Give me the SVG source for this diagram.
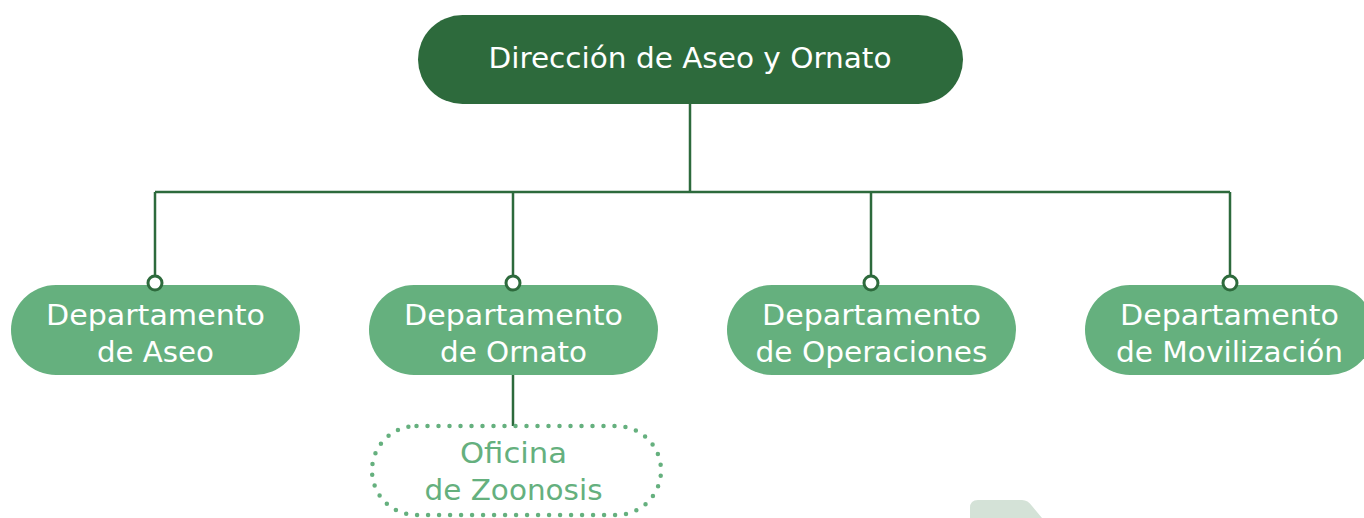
<svg xmlns="http://www.w3.org/2000/svg" width="1364" height="518" viewBox="0 0 1364 518">
<style>
.top{fill:#2d6a3c}
.dept{fill:#65b07e}
.lbl{font-family:"DejaVu Sans","Noto Sans",sans-serif;font-size:28px;fill:#ffffff;text-anchor:middle}
.lblg{font-family:"DejaVu Sans","Noto Sans",sans-serif;font-size:28px;fill:#65b07e;text-anchor:middle}
.conn{stroke:#2d6a3c;stroke-width:2.5;fill:none}
.dot{fill:#ffffff;stroke:#2d6a3c;stroke-width:3}
</style>
<rect width="1364" height="518" fill="#ffffff"/>
<path d="M970,518 L970,508 Q970,500 978,500 L1022,500 Q1028,500 1032,506 L1042,518 Z" fill="#d4e2d7"/>
<g id="connectors">
<path class="conn" d="M690,104 V192 M155,192 H1230 M155,192 V277 M513,192 V277 M871,192 V277 M1230,192 V277 M513,375 V426"/>
</g>
<g id="direccion">
<rect class="top" x="418" y="15" width="545" height="89" rx="44.5"/>
<text class="lbl" x="690" y="68" textLength="403" lengthAdjust="spacingAndGlyphs">Dirección de Aseo y Ornato</text>
</g>
<g id="aseo">
<rect class="dept" x="11" y="285" width="289" height="90" rx="45"/>
<text class="lbl" x="155.5" y="325" textLength="219" lengthAdjust="spacingAndGlyphs">Departamento</text>
<text class="lbl" x="155.5" y="362" textLength="117" lengthAdjust="spacingAndGlyphs">de Aseo</text>
</g>
<g id="ornato">
<rect class="dept" x="369" y="285" width="289" height="90" rx="45"/>
<text class="lbl" x="513.5" y="325" textLength="219" lengthAdjust="spacingAndGlyphs">Departamento</text>
<text class="lbl" x="513.5" y="362" textLength="147" lengthAdjust="spacingAndGlyphs">de Ornato</text>
</g>
<g id="operaciones">
<rect class="dept" x="727" y="285" width="289" height="90" rx="45"/>
<text class="lbl" x="871.5" y="325" textLength="219" lengthAdjust="spacingAndGlyphs">Departamento</text>
<text class="lbl" x="871.5" y="362" textLength="232" lengthAdjust="spacingAndGlyphs">de Operaciones</text>
</g>
<g id="movilizacion">
<rect class="dept" x="1085" y="285" width="289" height="90" rx="45"/>
<text class="lbl" x="1229.5" y="325" textLength="219" lengthAdjust="spacingAndGlyphs">Departamento</text>
<text class="lbl" x="1229.5" y="362" textLength="227" lengthAdjust="spacingAndGlyphs">de Movilización</text>
</g>
<g id="zoonosis">
<rect x="372" y="426" width="289" height="89" rx="44.5" fill="none" stroke="#65b07e" stroke-width="4.5" stroke-linecap="round" stroke-dasharray="0 11"/>
<text class="lblg" x="513.5" y="463" textLength="107" lengthAdjust="spacingAndGlyphs">Oficina</text>
<text class="lblg" x="513.5" y="500" textLength="178" lengthAdjust="spacingAndGlyphs">de Zoonosis</text>
</g>
<g id="connector-ends">
<circle class="dot" cx="155" cy="283" r="7"/>
<circle class="dot" cx="513" cy="283" r="7"/>
<circle class="dot" cx="871" cy="283" r="7"/>
<circle class="dot" cx="1230" cy="283" r="7"/>
</g>
</svg>
